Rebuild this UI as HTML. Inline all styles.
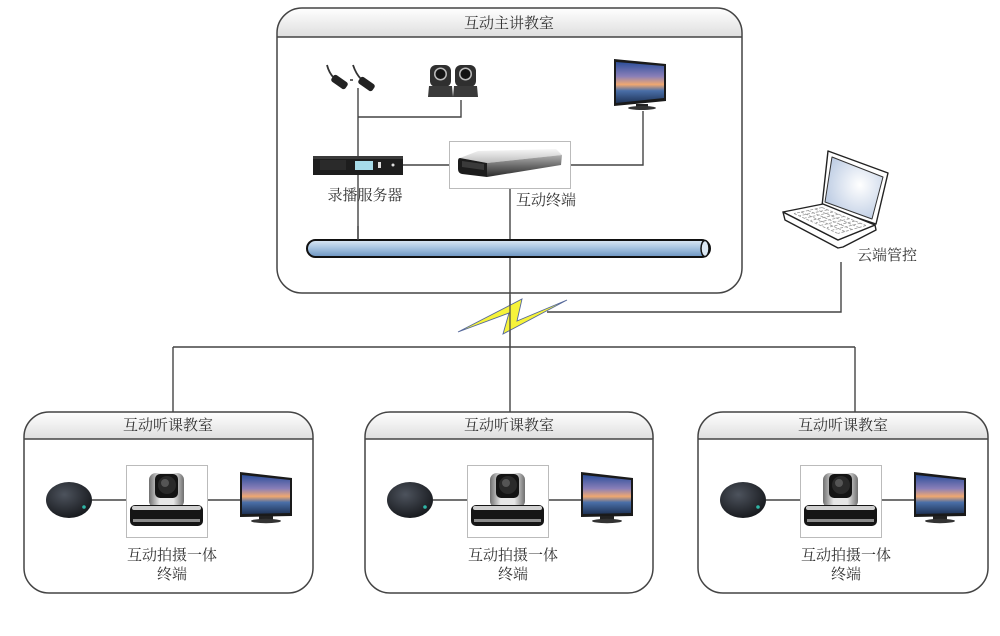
<!DOCTYPE html>
<html><head><meta charset="utf-8"><style>
html,body{margin:0;padding:0;background:#fff;}
svg{display:block;}
text{font-family:"Liberation Serif","Noto Serif CJK SC",serif;font-size:15px;fill:#333;}
</style></head><body>
<svg width="1000" height="636" viewBox="0 0 1000 636" xmlns="http://www.w3.org/2000/svg">
<defs>
<linearGradient id="hdr" x1="0" y1="0" x2="0" y2="1"><stop offset="0" stop-color="#ffffff"/><stop offset="1" stop-color="#dedede"/></linearGradient>
<linearGradient id="pipe" x1="0" y1="0" x2="0" y2="1"><stop offset="0" stop-color="#dce9f5"/><stop offset="0.45" stop-color="#a9c6e2"/><stop offset="1" stop-color="#6a93c0"/></linearGradient>
<linearGradient id="scr" x1="0" y1="0" x2="0" y2="1"><stop offset="0" stop-color="#2d4f9a"/><stop offset="0.35" stop-color="#8a7fb8"/><stop offset="0.55" stop-color="#f0a870"/><stop offset="0.7" stop-color="#4a6fa8"/><stop offset="1" stop-color="#1f3458"/></linearGradient>
<linearGradient id="silver" x1="0" y1="0" x2="0" y2="1"><stop offset="0" stop-color="#f6f6f6"/><stop offset="1" stop-color="#bdbdbd"/></linearGradient>
<linearGradient id="side" x1="0" y1="0" x2="0" y2="1"><stop offset="0" stop-color="#b0b0b0"/><stop offset="0.5" stop-color="#6a6a6a"/><stop offset="1" stop-color="#2a2a2a"/></linearGradient>
<linearGradient id="silverH" x1="0" y1="0" x2="1" y2="0"><stop offset="0" stop-color="#6f6f6f"/><stop offset="0.3" stop-color="#e6e6e6"/><stop offset="0.7" stop-color="#e6e6e6"/><stop offset="1" stop-color="#6f6f6f"/></linearGradient>
<radialGradient id="spk" cx="0.4" cy="0.35" r="0.7"><stop offset="0" stop-color="#4d535d"/><stop offset="1" stop-color="#15171b"/></radialGradient>
<radialGradient id="lcd" cx="0.6" cy="0.45" r="0.7"><stop offset="0" stop-color="#ffffff"/><stop offset="1" stop-color="#b5c6e0"/></radialGradient>
</defs>

<!-- ===== Top box ===== -->
<path d="M277,37 V33 A25,25 0 0 1 302,8 H717 A25,25 0 0 1 742,33 V37 Z" fill="url(#hdr)"/>
<rect x="277" y="8" width="465" height="285" rx="25" ry="25" fill="none" stroke="#444" stroke-width="1.5"/>
<line x1="277" y1="37" x2="742" y2="37" stroke="#444" stroke-width="1.5"/>
<text x="509" y="28" text-anchor="middle">互动主讲教室</text>

<!-- connectors in top box -->
<g stroke="#444" stroke-width="1.4" fill="none">
<line x1="358" y1="88" x2="358" y2="240"/>
<polyline points="358,117 461,117 461,100"/>
<line x1="403" y1="165" x2="449" y2="165"/>
<polyline points="571,165 643,165 643,111"/>
<line x1="510" y1="189" x2="510" y2="347"/>
<polyline points="841,262 841,312 547,312"/>
<line x1="173" y1="347" x2="855" y2="347"/>
<line x1="173" y1="347" x2="173" y2="412"/>
<line x1="510" y1="347" x2="510" y2="412"/>
<line x1="855" y1="347" x2="855" y2="412"/>
</g>

<!-- mics -->
<g>
<path d="M327,65 Q329,73 334,78" stroke="#333" stroke-width="1.8" fill="none"/>
<rect x="331" y="78" width="17" height="8" rx="2.5" fill="#222" transform="rotate(35 339.5 82)"/>
<line x1="350" y1="80" x2="353" y2="80" stroke="#333" stroke-width="1.5"/>
<path d="M353,65 Q356,74 361,79" stroke="#333" stroke-width="1.8" fill="none"/>
<rect x="358" y="80" width="17" height="8" rx="2.5" fill="#222" transform="rotate(35 366.5 84)"/>
</g>

<!-- PTZ cams top -->
<g>
<rect x="430" y="65" width="21" height="22" rx="6" fill="#2f2f2f"/>
<circle cx="440.5" cy="74" r="6.5" fill="#bbb"/><circle cx="440.5" cy="74" r="5" fill="#141414"/>
<path d="M429,86 H452 L453,97 H428 Z" fill="#3a3a3a"/>
<rect x="455" y="65" width="21" height="22" rx="6" fill="#2f2f2f"/>
<circle cx="465.5" cy="74" r="6.5" fill="#bbb"/><circle cx="465.5" cy="74" r="5" fill="#141414"/>
<path d="M454,86 H477 L478,97 H453 Z" fill="#3a3a3a"/>
</g>

<!-- TV top -->
<g>
<polygon points="614,59 666,64 666,101 614,106" fill="#1a1a1a"/>
<polygon points="616,62 664,66 664,98 616,103" fill="url(#scr)"/>
<rect x="636" y="104" width="12" height="3" fill="#222"/>
<ellipse cx="642" cy="108" rx="14" ry="2" fill="#333"/>
</g>

<!-- recorder -->
<g>
<rect x="313" y="156" width="90" height="19" fill="#1d1d1d"/>
<rect x="313" y="156" width="90" height="3" fill="#3a3a3a"/>
<rect x="320" y="160" width="26" height="10" fill="#2a2a2a"/>
<rect x="355" y="161" width="18" height="9" fill="#a7dbe9"/>
<rect x="378" y="162" width="3" height="6" fill="#ddd"/>
<circle cx="393" cy="165" r="1.5" fill="#ddd"/>
</g>

<!-- interactive terminal -->
<g>
<rect x="449.5" y="141.5" width="121" height="47" fill="#fff" stroke="#bbb" stroke-width="1"/>
<polygon points="460,158 478,151 556,149 562,155 487,163" fill="url(#silver)"/>
<polygon points="487,163 562,155 561,165 487,177" fill="url(#side)"/>
<path d="M460,158 L487,163 L487,177 L462,174 Q458,173 458,169 L458,161 Q458,158 460,158 Z" fill="#1c1c1c"/>
<polygon points="462,161 484,164 484,170 462,167" fill="#3a3a3a"/>
</g>

<text x="365" y="200" text-anchor="middle">录播服务器</text>
<text x="546" y="205" text-anchor="middle">互动终端</text>

<!-- bus pipe -->
<g>
<rect x="307" y="240" width="403" height="17" rx="8.5" ry="8.5" fill="url(#pipe)" stroke="#111" stroke-width="2"/>
<ellipse cx="705" cy="248.5" rx="4" ry="8" fill="#dbe8f4" stroke="#111" stroke-width="1.5"/>
</g>
<line x1="358" y1="226" x2="358" y2="240" stroke="#444" stroke-width="1.4"/>

<!-- laptop -->
<g stroke="#222" stroke-width="1.4" stroke-linejoin="round">
<polygon points="828,151 888,173 876,224 822,206" fill="#fff"/>
<polygon points="832,157 883,177 872,219 825,202" fill="url(#lcd)" stroke="#333" stroke-width="1"/>
<polygon points="783,212 785,220 838,248 843,247 876,230 875,225 838,240" fill="#fff"/>
<polygon points="783,212 823,204 875,225 838,240" fill="#fff"/>
</g>
<g stroke="#999" stroke-width="0.8" stroke-dasharray="3,1.5">
<line x1="822" y1="207.5" x2="866" y2="225.5"/>
<line x1="815" y1="209" x2="859" y2="227.5"/>
<line x1="808" y1="210.5" x2="852" y2="229.5"/>
<line x1="801" y1="212" x2="845" y2="231.5"/>
<line x1="794" y1="213.5" x2="838" y2="233.5"/>
<line x1="822" y1="207.5" x2="794" y2="213.5"/>
<line x1="827.5" y1="209.8" x2="799.5" y2="215.8"/>
<line x1="833" y1="212" x2="805" y2="218"/>
<line x1="838.5" y1="214.2" x2="810.5" y2="220.5"/>
<line x1="844" y1="216.5" x2="816" y2="222.8"/>
<line x1="849.5" y1="218.7" x2="821.5" y2="225.2"/>
<line x1="855" y1="221" x2="827" y2="227.6"/>
<line x1="860.5" y1="223.2" x2="832.5" y2="230"/>
<line x1="866" y1="225.5" x2="838" y2="233.5"/>
</g>
<text x="887" y="260" text-anchor="middle">云端管控</text>

<!-- lightning -->
<polygon points="458,332 522,299 517,321 567,300 503,334 509,313" fill="#f6f33a" stroke="#55689a" stroke-width="0.9" stroke-linejoin="miter"/>
<line x1="510" y1="295" x2="510" y2="347" stroke="#444" stroke-width="1.2"/>

<!-- ===== Bottom boxes ===== -->
<g>
<path d="M24,439 V437 A25,25 0 0 1 49,412 H288 A25,25 0 0 1 313,437 V439 Z" fill="url(#hdr)"/>
<rect x="24" y="412" width="289" height="181" rx="25" ry="25" fill="none" stroke="#444" stroke-width="1.5"/>
<line x1="24" y1="439" x2="313" y2="439" stroke="#444" stroke-width="1.5"/>
<text x="168" y="430" text-anchor="middle">互动听课教室</text>
<line x1="92" y1="500" x2="126" y2="500" stroke="#444" stroke-width="1.4"/>
<line x1="207" y1="500" x2="240" y2="500" stroke="#444" stroke-width="1.4"/>
<ellipse cx="69" cy="500" rx="23" ry="18" fill="url(#spk)"/>
<circle cx="84" cy="507" r="1.8" fill="#2fb6a6"/>
<rect x="126.5" y="465.5" width="81" height="72" fill="#fff" stroke="#bbb" stroke-width="1"/>
<rect x="149" y="473" width="35" height="35" rx="7" fill="url(#silverH)"/>
<rect x="155" y="474" width="23" height="24" rx="5" fill="#141414"/>
<circle cx="167" cy="485" r="9" fill="#2a2a2a"/><circle cx="165" cy="483" r="4" fill="#555"/>
<rect x="130" y="505" width="73" height="21" rx="5" fill="#151515"/>
<rect x="132" y="506" width="69" height="4" rx="2" fill="#cfcfcf"/>
<rect x="133" y="519" width="67" height="3" fill="#8a8a8a"/>
<polygon points="240,472 292,478 292,516 240,517" fill="#1a1a1a"/>
<polygon points="242,475 290,480 290,513 242,514" fill="url(#scr)"/>
<rect x="259" y="516" width="14" height="4" fill="#222"/>
<ellipse cx="266" cy="521" rx="15" ry="2.2" fill="#333"/>
<text x="172" y="560" text-anchor="middle">互动拍摄一体</text>
<text x="172" y="579" text-anchor="middle">终端</text>
</g>

<g transform="translate(341,0)">
<path d="M24,439 V437 A25,25 0 0 1 49,412 H288 A25,25 0 0 1 313,437 V439 Z" fill="url(#hdr)"/>
<rect x="24" y="412" width="288" height="181" rx="25" ry="25" fill="none" stroke="#444" stroke-width="1.5"/>
<line x1="24" y1="439" x2="312" y2="439" stroke="#444" stroke-width="1.5"/>
<text x="168" y="430" text-anchor="middle">互动听课教室</text>
<line x1="92" y1="500" x2="126" y2="500" stroke="#444" stroke-width="1.4"/>
<line x1="207" y1="500" x2="240" y2="500" stroke="#444" stroke-width="1.4"/>
<ellipse cx="69" cy="500" rx="23" ry="18" fill="url(#spk)"/>
<circle cx="84" cy="507" r="1.8" fill="#2fb6a6"/>
<rect x="126.5" y="465.5" width="81" height="72" fill="#fff" stroke="#bbb" stroke-width="1"/>
<rect x="149" y="473" width="35" height="35" rx="7" fill="url(#silverH)"/>
<rect x="155" y="474" width="23" height="24" rx="5" fill="#141414"/>
<circle cx="167" cy="485" r="9" fill="#2a2a2a"/><circle cx="165" cy="483" r="4" fill="#555"/>
<rect x="130" y="505" width="73" height="21" rx="5" fill="#151515"/>
<rect x="132" y="506" width="69" height="4" rx="2" fill="#cfcfcf"/>
<rect x="133" y="519" width="67" height="3" fill="#8a8a8a"/>
<polygon points="240,472 292,478 292,516 240,517" fill="#1a1a1a"/>
<polygon points="242,475 290,480 290,513 242,514" fill="url(#scr)"/>
<rect x="259" y="516" width="14" height="4" fill="#222"/>
<ellipse cx="266" cy="521" rx="15" ry="2.2" fill="#333"/>
<text x="172" y="560" text-anchor="middle">互动拍摄一体</text>
<text x="172" y="579" text-anchor="middle">终端</text>
</g>

<g transform="translate(674,0)">
<path d="M24,439 V437 A25,25 0 0 1 49,412 H289 A25,25 0 0 1 314,437 V439 Z" fill="url(#hdr)"/>
<rect x="24" y="412" width="290" height="181" rx="25" ry="25" fill="none" stroke="#444" stroke-width="1.5"/>
<line x1="24" y1="439" x2="314" y2="439" stroke="#444" stroke-width="1.5"/>
<text x="169" y="430" text-anchor="middle">互动听课教室</text>
<line x1="92" y1="500" x2="126" y2="500" stroke="#444" stroke-width="1.4"/>
<line x1="207" y1="500" x2="240" y2="500" stroke="#444" stroke-width="1.4"/>
<ellipse cx="69" cy="500" rx="23" ry="18" fill="url(#spk)"/>
<circle cx="84" cy="507" r="1.8" fill="#2fb6a6"/>
<rect x="126.5" y="465.5" width="81" height="72" fill="#fff" stroke="#bbb" stroke-width="1"/>
<rect x="149" y="473" width="35" height="35" rx="7" fill="url(#silverH)"/>
<rect x="155" y="474" width="23" height="24" rx="5" fill="#141414"/>
<circle cx="167" cy="485" r="9" fill="#2a2a2a"/><circle cx="165" cy="483" r="4" fill="#555"/>
<rect x="130" y="505" width="73" height="21" rx="5" fill="#151515"/>
<rect x="132" y="506" width="69" height="4" rx="2" fill="#cfcfcf"/>
<rect x="133" y="519" width="67" height="3" fill="#8a8a8a"/>
<polygon points="240,472 292,478 292,516 240,517" fill="#1a1a1a"/>
<polygon points="242,475 290,480 290,513 242,514" fill="url(#scr)"/>
<rect x="259" y="516" width="14" height="4" fill="#222"/>
<ellipse cx="266" cy="521" rx="15" ry="2.2" fill="#333"/>
<text x="172" y="560" text-anchor="middle">互动拍摄一体</text>
<text x="172" y="579" text-anchor="middle">终端</text>
</g>
</svg>
</body></html>
